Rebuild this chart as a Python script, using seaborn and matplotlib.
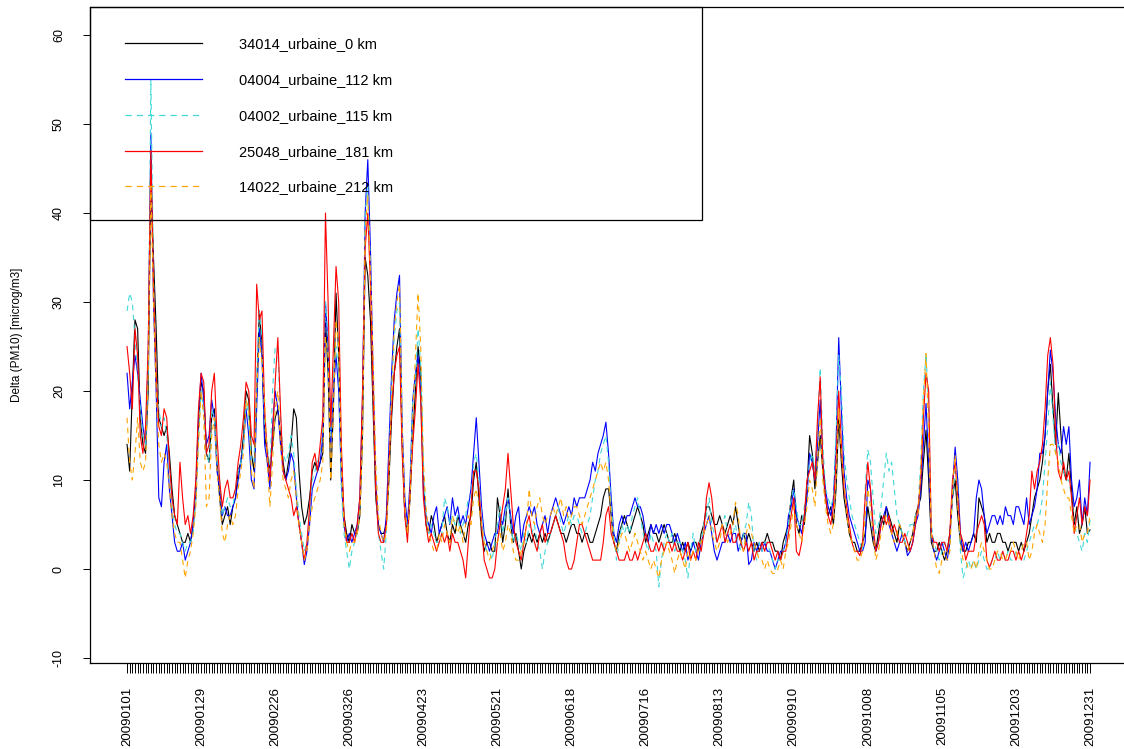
import matplotlib
matplotlib.use("Agg")
import matplotlib.pyplot as plt
from matplotlib.patches import Rectangle
import seaborn as sns
import pandas as pd

plt.rcParams['font.family'] = ['Liberation Sans', 'DejaVu Sans']

stations = ["34014_urbaine_0 km", "04004_urbaine_112 km", "04002_urbaine_115 km",
            "25048_urbaine_181 km", "14022_urbaine_212 km"]
colors = ["#000000", "#0000FF", "#40D8D8", "#FF0000", "#FFA500"]

date_labels = ["20090101", "20090129", "20090226", "20090326", "20090423", "20090521",
               "20090618", "20090716", "20090813", "20090910", "20091008", "20091105",
               "20091203", "20091231"]
label_days = [0, 28, 56, 84, 112, 140, 168, 196, 224, 252, 280, 308, 336, 364]

s34014 = [
 14, 11, 20, 28, 27, 17, 14, 13, 20, 44,
 35, 27, 17, 16, 15, 16, 13, 9, 6, 5,
 4, 3, 3, 4, 3, 5, 8, 16, 21, 20,
 13, 12, 17, 18, 12, 8, 5, 6, 7, 5,
 7, 8, 11, 12, 15, 20, 19, 13, 11, 20,
 29, 25, 15, 13, 11, 14, 17, 18, 15, 12,
 10, 12, 14, 18, 17, 11, 7, 5, 6, 8,
 11, 12, 11, 12, 13, 28, 22, 10, 18, 31,
 24, 12, 6, 4, 3, 5, 4, 4, 6, 15,
 35, 33, 28, 18, 8, 5, 4, 4, 5, 10,
 17, 22, 25, 27, 14, 6, 4, 8, 15, 20,
 25, 22, 10, 5, 4, 6, 5, 3, 4, 5,
 6, 4, 3, 5, 4, 6, 5, 4, 3, 5,
 6, 10, 12, 8, 4, 2, 3, 3, 2, 2,
 8, 6, 3, 5, 9, 5, 3, 4, 2, 0,
 2, 3, 4, 3, 4, 3, 4, 3, 4, 3,
 4, 5, 6, 5, 4, 4, 3, 4, 5, 5,
 4, 4, 3, 4, 4, 3, 3, 4, 5, 6,
 8, 9, 9, 6, 3, 2, 4, 5, 6, 5,
 4, 5, 6, 7, 6, 5, 3, 4, 5, 4,
 4, 3, 4, 5, 4, 3, 3, 4, 3, 2,
 3, 2, 3, 2, 3, 3, 2, 4, 5, 7,
 7, 6, 5, 5, 6, 5, 4, 5, 6, 5,
 7, 5, 3, 4, 3, 4, 3, 2, 3, 2,
 3, 3, 4, 3, 3, 2, 2, 1, 3, 4,
 5, 8, 10, 5, 4, 6, 5, 9, 15, 13,
 9, 12, 15, 11, 8, 6, 7, 5, 9, 17,
 12, 8, 6, 4, 3, 3, 2, 2, 3, 4,
 7, 5, 3, 2, 4, 6, 5, 7, 6, 5,
 4, 3, 5, 4, 3, 2, 3, 4, 6, 7,
 8, 12, 15.6, 10, 3, 2, 2, 3, 2, 1,
 2, 4, 8, 10, 6, 3, 2, 2, 3, 3,
 4, 3, 8, 7, 6, 3, 4, 3, 3, 4,
 4, 3, 3, 2, 3, 3, 3, 2, 3, 2,
 3, 4, 6, 8, 9, 10, 12, 15, 20, 23,
 18, 14, 19.8, 15, 11, 10, 13, 9, 5, 7,
 4, 5, 7, 4, 4.4]

s04004 = [
 22, 18, 21, 24, 22, 19, 16, 14, 24, 49,
 30, 20, 8, 7, 12, 14, 9, 6, 3, 2,
 2, 3, 1, 2, 3, 5, 9, 17, 22, 19,
 14, 15, 19, 17, 11, 9, 6, 7, 6, 6,
 7, 8, 10, 12, 14, 18, 15, 10, 9, 18,
 27, 24, 14, 12, 9, 16, 20, 18, 14, 11,
 10, 11, 13, 12, 8, 5, 3, 0.5, 2, 5,
 9, 10, 11, 12, 15, 30, 25, 14, 20, 24,
 20, 10, 5, 3, 4, 3, 4, 5, 8, 19,
 40, 46, 36, 22, 10, 5, 4, 3, 6, 14,
 22, 28, 31, 33, 16, 8, 5, 10, 19, 22,
 24, 20, 9, 6, 5, 4, 6, 7, 4, 5,
 6, 7, 5, 8, 6, 7, 5, 6, 5, 7,
 9, 13, 17, 12, 7, 4, 3, 2, 3, 4,
 4, 6, 5, 7, 8, 6, 4, 6, 7, 3,
 5, 6, 7, 6, 7, 5, 4, 5, 6, 4,
 6, 7, 8, 7, 6, 5, 6, 7, 6, 8,
 7, 8, 8, 8, 9, 10, 12, 11, 13, 14,
 15, 16.5, 13, 8, 4, 3, 5, 6, 5, 6,
 6, 7, 8, 7, 7, 6, 4, 3, 5, 4,
 5, 4, 5, 4, 5, 5, 4, 3, 4, 3,
 2, 3, 1, 2, 3, 2, 1, 3, 4, 5,
 6, 4, 2, 1, 2, 3, 3, 4, 3, 4,
 4, 2, 3, 4, 4, 0.5, 1, 3, 2, 3,
 2, 3, 2, 2, 1, 0, 1, 2, 2, 3,
 6, 7, 9, 6, 5, 4, 6, 8, 13, 12,
 10, 14, 19, 12, 9, 7, 6, 8, 14, 26,
 18, 11, 8, 6, 5, 4, 3, 2, 2, 3,
 10, 9, 4, 2, 3, 5, 6, 7, 5, 4,
 3, 2, 3, 4, 3, 1.5, 2, 3, 5, 6,
 9, 14, 18.6, 12, 4, 2, 1, 2, 3, 2,
 1, 3, 9, 13.7, 10, 4, 2, 3, 2, 3,
 4, 8, 10, 9, 6, 4, 5, 6, 6, 5,
 6, 5, 7, 6, 6, 5, 7, 7, 6, 5,
 8, 5, 6, 7, 9, 13, 13, 15, 20, 24.6,
 22, 17, 14, 13, 16, 14, 16, 10, 7, 8,
 10, 5, 8, 6, 12]

s04002 = [
 29, 31, 30, 26, 22, 18, 15, 14, 22, 55,
 33, 22, 18, 16, 17, 15, 11, 7, 5, 4,
 4, 3, 2, 3, 3, 4, 8, 15, 20, 18,
 13, 12, 18, 17, 12, 10, 6, 7, 8, 7,
 7, 9, 11, 12, 14, 19, 17, 12, 12, 22,
 29, 26, 16, 14, 11, 20, 25, 25, 17, 13,
 12, 13, 15, 13, 9, 6, 4, 2, 3, 6,
 10, 11, 12, 13, 16, 30, 26, 15, 22, 25,
 22, 9, 4, 2, 0, 2, 3, 4, 7, 17,
 40, 43, 34, 20, 9, 4, 2, 0, 4, 12,
 20, 26, 29, 30, 15, 6, 4, 9, 19, 21,
 27, 23, 11, 6, 4, 5, 4, 3, 3, 4,
 8, 7, 5, 6, 5, 6, 4, 5, 6, 8,
 8, 12, 13, 10, 6, 3, 2, 2, 1, 3,
 5, 7, 4, 6, 8, 5, 3, 4, 3, 2,
 4, 3, 5, 4, 5, 3, 2, 0, 2, 3,
 4, 5, 6, 7, 5, 4, 5, 6, 5, 6,
 6, 5, 4, 4, 5, 6, 8, 10, 11, 13,
 14, 15, 12, 7, 4, 1, 3, 5, 4, 5,
 4, 6, 7, 8, 6, 4, 3, 2, 4, 3,
 2, -2, 1, 3, 4, 3, 4, 2, 3, 3,
 2, 1, -1, 2, 4, 2, 3, 3, 5, 6,
 8, 5, 4, 3, 4, 5, 6, 4, 5, 4,
 5, 3, 2, 4, 5, 7.5, 6, 2, 1, 3,
 2, 3, 3, 2, 1, 0, 1, 1, 2, 3,
 5, 8, 9, 7, 5, 5, 7, 9, 12, 13,
 11, 16, 22.6, 14, 9, 8, 7, 8, 15, 24,
 20, 13, 10, 8, 6, 5, 4, 3, 2, 9,
 13.4, 12, 8, 4, 5, 7, 10, 13, 11, 12,
 9, 6, 5, 4, 3, 4, 5, 5, 6, 7,
 12, 20, 24.2, 18, 5, 3, 2, 1, 2, 3,
 2, 3, 8, 11, 9, 2, -1, 0, 1, 0,
 1, 0, 1, 2, 1, 0, 0, 1, 1, 2,
 1, 2, 1, 2, 1, 1, 2, 2, 1, 1,
 2, 3, 4, 5, 5, 6, 8, 12, 16, 21,
 17, 13, 14, 12, 11, 10, 10, 8, 5, 4,
 3, 2, 4, 3, 5.5]

s25048 = [
 25, 22, 18, 27, 24, 15, 13, 16, 25, 47,
 32, 22, 16, 15, 18, 17, 12, 8, 6, 5,
 12, 8, 5, 6, 4, 6, 10, 18, 22, 21,
 13, 14, 20, 22, 15, 10, 7, 9, 10, 8,
 8, 9, 12, 14, 17, 21, 20, 15, 14, 32,
 28, 29, 18, 13, 10, 15, 21, 26, 18, 11,
 10, 9, 8, 6, 7, 5, 3, 1, 3, 7,
 12, 13, 11, 14, 17, 40, 30, 16, 25, 34,
 30, 14, 6, 3, 3, 4, 3, 5, 8, 20,
 36, 40, 32, 20, 9, 4, 3, 3, 5, 12,
 18, 22, 24, 25, 13, 6, 3, 9, 14, 18,
 23, 19, 8, 5, 3, 4, 3, 2, 3, 4,
 3, 4, 2, 4, 3, 3, 2, 1, -1, 3,
 7, 11, 11, 9, 5, 1, 0, -1, -1, 0,
 3, 5, 7, 9, 13, 9, 5, 3, 2, 1,
 3, 5, 6, 4, 3, 2, 4, 5, 3, 4,
 4, 5, 6, 5, 4, 3, 1, 0, 0, 1,
 3, 5, 5, 4, 3, 2, 1, 1, 1, 1,
 3, 6, 7, 4, 3, 2, 1, 1, 1, 2,
 1, 1, 2, 1, 2, 3, 4, 3, 2, 2,
 3, 2, 3, 2, 3, 3, 2, 3, 2, 2,
 1, 2, 3, 1, 2, 1, 3, 2, 4, 8,
 9.7, 8, 5, 3, 4, 5, 3, 4, 5, 3,
 3, 4, 3, 2, 3, 2, 3, 1, 2, 2,
 3, 2, 3, 3, 2, 1, 2, 1, 2, 2,
 4, 6, 8, 2, 1.5, 3, 6, 10, 11, 12,
 10, 17, 21.6, 12, 8, 6, 5, 7, 12, 20,
 14, 9, 7, 5, 3, 2, 2, 1.5, 3, 8,
 12, 9, 5, 2, 3, 5, 6, 5, 6, 4,
 5, 4, 3, 3, 4, 3, 2, 3, 5, 7,
 10, 17, 22, 20, 4, 3, 3, 2, 3, 3,
 2, 4, 10, 12, 8, 4, 3, 1, 2, 2,
 2, 4, 5, 6, 5, 1, 0.2, 1, 2, 1,
 1, 2, 1, 1, 2, 2, 1, 2, 1, 2,
 4, 6, 11, 9, 11, 12, 14, 18, 24, 26,
 23, 15, 11, 10, 12, 10, 11, 8, 4, 6,
 8, 5, 7, 6, 10]

s14022 = [
 17, 12, 10, 13, 17, 12, 11, 12, 22, 43,
 30, 20, 14, 12, 13, 12, 9, 6, 4, 3,
 3, 1, -1, 1, 2, 4, 7, 14, 20, 17,
 7, 8, 15, 17, 11, 8, 4, 3, 5, 6,
 5, 6, 9, 11, 13, 19, 18, 11, 9, 20,
 26, 23, 19, 12, 7, 12, 18, 20, 14, 10,
 9, 8, 10, 11, 8, 5, 3, 1, 2, 5,
 7, 8, 9, 10, 12, 26, 24, 10, 18, 28,
 25, 12, 5, 3, 2, 3, 3, 4, 6, 14,
 38, 42, 33, 24, 12, 6, 4, 3, 4, 10,
 20, 27, 30, 32, 16, 7, 4, 8, 17, 24,
 31, 25, 12, 7, 4, 3, 2, 2, 4, 3,
 5, 4, 3, 6, 5, 4, 5, 3, 5, 6,
 5, 8, 9, 7, 5, 3, 2, 1, 2, 3,
 3, 4, 2, 3, 5, 4, 2, 1, 1, 2,
 3, 5, 9, 6, 5, 7, 8, 6, 5, 6,
 6, 7, 6, 7, 8, 6, 7, 5, 6, 7,
 7, 6, 5, 6, 7, 8, 9, 10, 11, 12,
 11, 12, 10, 6, 3, 2, 3, 4, 4, 3,
 2, 3, 4, 3, 2, 1, 2, 1, 0, 1,
 0, -1, 1, 2, 3, 2, 1, -0.5, 1, 2,
 1, 0, 2, 1, 2, 1, 2, 3, 4, 5,
 6, 4, 3, 2, 3, 5, 4, 3, 4, 5,
 7.5, 6, 3, 2, 4, 5, 4, 3, 2, 1,
 1, 0, 1, 0, -0.5, -0.5, 0, 1, 0, 2,
 3, 5, 7, 5, 4, 3, 5, 7, 10, 9,
 7, 12, 17, 10, 7, 5, 4, 5, 10, 18,
 13, 10, 6, 4, 3, 2, 1, 1, 2, 6,
 9, 7, 4, 1, 2, 4, 5, 6, 5, 4,
 3, 4, 5, 4, 3, 2, 3, 4, 6, 6,
 11, 19, 24.2, 15, 4, 2, 0, -0.5, 1, 2,
 1, 2, 9, 12.8, 7, 3, 1, 1, 0, 0,
 1, 0, 2, 3, 2, 1, 0, 0, 1, 2,
 2, 1, 1, 2, 2, 3, 2, 1, 2, 3,
 3, 1, 2, 4, 5, 4, 3, 5, 10, 14,
 14, 13, 12, 10, 9, 8, 8, 6, 4, 5,
 5, 3, 4, 4, 6]

series = [s34014, s04004, s04002, s25048, s14022]
n_days = len(s34014)
days = list(range(n_days))

df = pd.concat([pd.DataFrame({"day": days, "value": vals, "station": name})
                for name, vals in zip(stations, series)], ignore_index=True)

palette = dict(zip(stations, colors))
dash_map = {stations[0]: "", stations[1]: "", stations[2]: (5, 4),
            stations[3]: "", stations[4]: (5, 4)}

W, H = 1124, 749
fig = plt.figure(figsize=(W / 100, H / 100), dpi=100)
ax_top, ax_bot = 7, 663
ax = fig.add_axes([90 / W, (H - ax_bot) / H, (1130 - 90) / W, (ax_bot - ax_top) / H])

sns.lineplot(data=df, x="day", y="value", hue="station", style="station",
             hue_order=stations, style_order=stations, palette=palette,
             dashes=dash_map, estimator=None, errorbar=None, sort=False,
             linewidth=0.8, ax=ax)

ax.set_xlim(-14.0, 379.1)
ax.set_ylim(-10.56, 63.15)

ticklabels = [""] * n_days
for d, lab in zip(label_days, date_labels):
    ticklabels[d] = lab
ax.set_xticks(days)
ax.set_xticklabels(ticklabels, rotation=90, fontsize=9.5, va="top", ha="center")
ax.tick_params(axis="x", length=7, width=0.7, pad=10, direction="out", color="black")

yt = [-10, 0, 10, 20, 30, 40, 50, 60]
ax.set_yticks(yt)
ax.set_yticklabels([str(v) for v in yt], rotation=90, fontsize=9, va="center")
ax.tick_params(axis="y", length=5, width=0.7, pad=13, direction="out", color="black")

ax.set_xlabel("")
ax.set_ylabel("Delta (PM10) [microg/m3]", fontsize=8.5)
ax.yaxis.set_label_coords(-0.064, 0.5)

for sp in ax.spines.values():
    sp.set_color("black")
    sp.set_linewidth(0.9)

# legend box (transparent, lines show through as in the original)
box_bottom_px = 220
box_y = (ax_bot - box_bottom_px) / (ax_bot - ax_top)
ax.add_patch(Rectangle((0, box_y), (702 - 90) / 1040, 1 - box_y, transform=ax.transAxes,
                       fill=False, edgecolor="black", linewidth=0.9, clip_on=False,
                       zorder=5))

handles, labels = ax.get_legend_handles_labels()
leg = ax.legend(handles, labels, loc="upper left",
                bbox_to_anchor=(125 / W, 1 - 37 / H), bbox_transform=fig.transFigure,
                borderaxespad=0, borderpad=0, fontsize=10.5, handlelength=5.3,
                handletextpad=2.5, labelspacing=1.5, frameon=False)
for ln in leg.get_lines():
    ln.set_linewidth(0.9)

fig.savefig("out.png", dpi=100)
